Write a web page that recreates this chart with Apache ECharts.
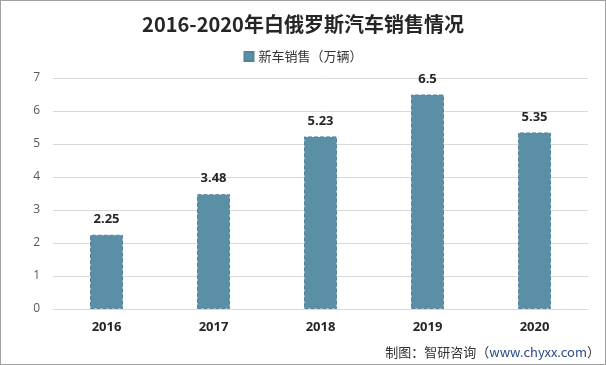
<!DOCTYPE html>
<html><head><meta charset="utf-8">
<script src="https://cdn.jsdelivr.net/npm/echarts@6/dist/echarts.min.js"></script>
<style>html,body{margin:0;padding:0;background:#fff}#c{width:604px;height:363px;border:1px solid #a0a0a0}</style>
</head><body><div id="c"></div>
<script>
const categories = ['2016','2017','2018','2019','2020'];
const sales = [2.25, 3.48, 5.23, 6.5, 5.35];
const seriesName = '新车销售（万辆）';
const yTicks = [0,1,2,3,4,5,6,7];
const chart = echarts.init(document.getElementById('c'));
chart.setOption({
  animation:false,
  title:{text:'2016-2020年白俄罗斯汽车销售情况',left:'center',top:8,textStyle:{fontSize:20,fontWeight:'bold',color:'#262626',fontFamily:'"Noto Sans CJK SC","Open Sans",sans-serif'}},
  legend:{top:44,left:'center',itemWidth:9,itemHeight:9,icon:'rect',data:[seriesName],textStyle:{fontSize:13,color:'#333',fontFamily:'"Noto Sans CJK SC",sans-serif'}},
  grid:{left:52,right:17,top:77,bottom:55},
  xAxis:{type:'category',data:categories,axisTick:{show:false},axisLine:{lineStyle:{color:'#d9d9d9'}},axisLabel:{fontSize:13,fontWeight:'bold',color:'#262626',margin:12,fontFamily:'"Open Sans",sans-serif'}},
  yAxis:{type:'value',min:yTicks[0],max:yTicks[yTicks.length-1],interval:1,axisLine:{show:false},axisTick:{show:false},splitLine:{lineStyle:{color:'#d9d9d9'}},axisLabel:{fontSize:12,color:'#595959',margin:13,fontFamily:'"Open Sans",sans-serif'}},
  series:[{name:seriesName,type:'bar',data:sales,barWidth:33,itemStyle:{color:'#5b8fa6',borderColor:'#52859b',borderWidth:1,borderType:'dashed'},
    label:{show:true,position:'top',distance:9,fontSize:13,fontWeight:'bold',color:'#262626',fontFamily:'"Open Sans",sans-serif'}}],
  graphic:[{type:'text',right:5,bottom:5,style:{rich:{a:{fontSize:13,fill:'#333',fontFamily:'"Noto Sans CJK SC",sans-serif'},b:{fontSize:13,fill:'#2a4a8a',fontFamily:'"Noto Sans CJK SC",sans-serif'}},text:'{a|制图：智研咨询（}{b|www.chyxx.com}{a|）}'}}]
});
</script></body></html>
